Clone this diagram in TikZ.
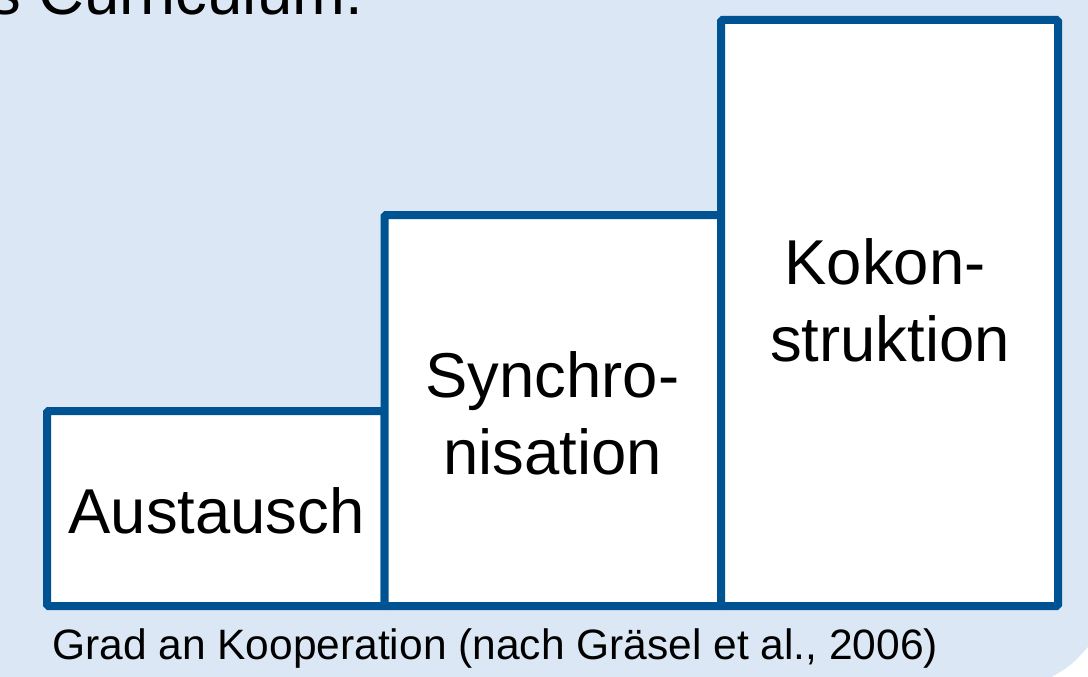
\documentclass[tikz,border=0pt]{standalone}
\usepackage{fontspec}
\setmainfont{Liberation Sans}
\definecolor{bgblue}{RGB}{219,231,244}
\definecolor{boxblue}{RGB}{0,83,147}
\begin{document}
\begin{tikzpicture}[x=1pt,y=-1pt,
  stepbox/.style={draw=boxblue,line width=8pt,fill=white,rounded corners=1.5pt},
  bigtext/.style={font=\fontsize{63.4}{77.5}\selectfont,anchor=base,inner sep=0pt},
  captext/.style={font=\fontsize{42.5}{50}\selectfont,anchor=base west,inner sep=0pt}]
\useasboundingbox (0,0) rectangle (1088,677);
\fill[bgblue] (0,0) rectangle (1088,677);
\fill[white] (1052,677) .. controls (1072,665) .. (1088,647) -- (1088,677) -- cycle;
% top (cut) text
\node[bigtext,anchor=base east] (title) at (363,15) {s Curriculum.};
% boxes
\draw[stepbox] (47,411) rectangle (384.5,606) coordinate (b1);
\draw[stepbox] (384.5,215) rectangle (721,606) coordinate (b2);
\draw[stepbox] (721,20) rectangle (1058,606) coordinate (b3);
% labels
\node[bigtext] (aus) at (216.5,533) {Austausch};
\node[bigtext] (syn1) at (552.5,397) {Synchro-};
\node[bigtext] (syn2) at (552.5,474) {nisation};
\node[bigtext] (kok1) at (885,284) {Kokon-};
\node[bigtext] (kok2) at (890,361) {struktion};
% caption
\node[captext] (cap) at (52,659) {Grad an Kooperation (nach Gräsel et al., 2006)};
\end{tikzpicture}
\end{document}
